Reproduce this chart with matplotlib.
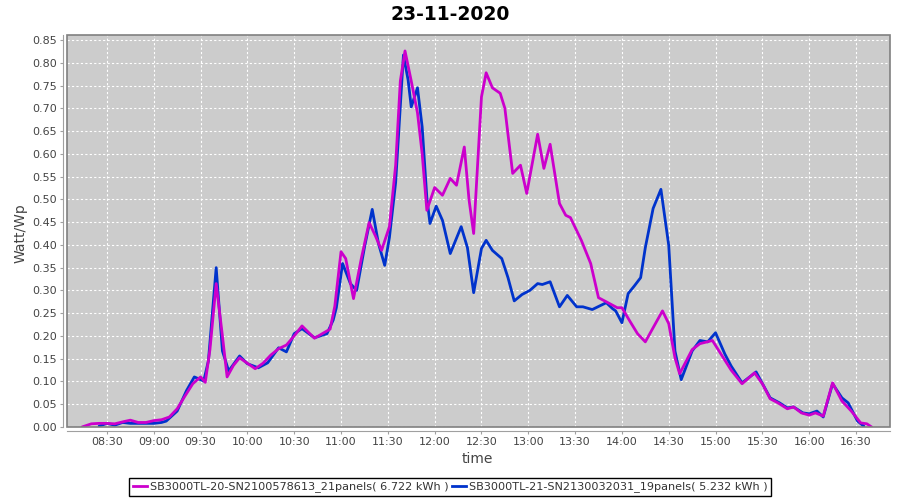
import matplotlib
matplotlib.use("Agg")
import matplotlib.pyplot as plt
import matplotlib.dates as mdates
from matplotlib.patches import Rectangle
from matplotlib.lines import Line2D
import pandas as pd

day = "2020-11-23"
title = "23-11-2020"

# SB3000TL-20 (21 panels)
sb20_times = [
    "08:14", "08:20", "08:25", "08:30", "08:35", "08:41", "08:45", "08:50", "08:55", "09:00",
    "09:05", "09:10", "09:15", "09:20", "09:25", "09:30", "09:33", "09:36", "09:40", "09:44",
    "09:47", "09:51", "09:55", "10:00", "10:05", "10:10", "10:15", "10:20", "10:25", "10:30",
    "10:35", "10:40", "10:43", "10:48", "10:53", "10:56", "11:00", "11:03", "11:08", "11:13",
    "11:18", "11:22", "11:26", "11:31", "11:35", "11:38", "11:41", "11:45", "11:49", "11:52",
    "11:55", "12:00", "12:05", "12:10", "12:14", "12:19", "12:22", "12:25", "12:30", "12:33",
    "12:37", "12:42", "12:45", "12:50", "12:55", "12:59", "13:06", "13:10", "13:14", "13:20",
    "13:24", "13:27", "13:34", "13:40", "13:45", "13:50", "13:57", "14:00", "14:05", "14:10",
    "14:15", "14:20", "14:26", "14:30", "14:34", "14:37", "14:45", "14:50", "14:58", "15:05",
    "15:10", "15:17", "15:25", "15:30", "15:35", "15:40", "15:46", "15:50", "15:55", "16:00",
    "16:04", "16:09", "16:15", "16:21", "16:27", "16:33", "16:37", "16:40",
]
sb20_values = [
    0.000, 0.007, 0.008, 0.008, 0.007, 0.012, 0.015, 0.010, 0.010, 0.014,
    0.016, 0.022, 0.040, 0.068, 0.095, 0.110, 0.098, 0.170, 0.315, 0.200,
    0.110, 0.135, 0.152, 0.140, 0.128, 0.140, 0.158, 0.172, 0.180, 0.200,
    0.222, 0.205, 0.195, 0.205, 0.215, 0.265, 0.385, 0.370, 0.282, 0.370,
    0.449, 0.420, 0.388, 0.440, 0.575, 0.760, 0.826, 0.760, 0.690, 0.600,
    0.476, 0.526, 0.509, 0.546, 0.531, 0.615, 0.500, 0.425, 0.725, 0.778,
    0.745, 0.733, 0.700, 0.557, 0.575, 0.513, 0.643, 0.568, 0.621, 0.491,
    0.465, 0.460, 0.410, 0.359, 0.284, 0.275, 0.262, 0.262, 0.233, 0.205,
    0.187, 0.218, 0.255, 0.227, 0.152, 0.117, 0.170, 0.183, 0.190, 0.152,
    0.125, 0.095, 0.119, 0.095, 0.062, 0.053, 0.040, 0.044, 0.031, 0.026,
    0.031, 0.024, 0.097, 0.057, 0.035, 0.009, 0.007, 0.000,
]

# SB3000TL-21 (19 panels)
sb21_times = [
    "08:25", "08:30", "08:35", "08:40", "08:45", "08:50", "08:55", "09:00", "09:05", "09:08",
    "09:15", "09:21", "09:26", "09:32", "09:35", "09:40", "09:44", "09:48", "09:55", "10:00",
    "10:07", "10:13", "10:20", "10:25", "10:30", "10:35", "10:43", "10:51", "10:55", "10:57",
    "11:01", "11:06", "11:10", "11:15", "11:20", "11:24", "11:28", "11:31", "11:35", "11:40",
    "11:43", "11:45", "11:49", "11:52", "11:55", "11:57", "12:01", "12:05", "12:10", "12:17",
    "12:21", "12:25", "12:30", "12:33", "12:37", "12:43", "12:47", "12:51", "12:56", "13:01",
    "13:06", "13:09", "13:14", "13:20", "13:25", "13:31", "13:35", "13:41", "13:50", "13:54",
    "13:56", "14:00", "14:04", "14:08", "14:12", "14:15", "14:20", "14:25", "14:30", "14:34",
    "14:38", "14:45", "14:50", "14:55", "15:00", "15:06", "15:10", "15:17", "15:26", "15:35",
    "15:41", "15:46", "15:50", "15:56", "16:00", "16:05", "16:09", "16:15", "16:21", "16:25",
    "16:31", "16:35",
]
sb21_values = [
    0.002, 0.008, 0.004, 0.010, 0.008, 0.008, 0.008, 0.008, 0.010, 0.013,
    0.035, 0.080, 0.110, 0.101, 0.145, 0.350, 0.167, 0.123, 0.156, 0.139,
    0.130, 0.141, 0.174, 0.165, 0.205, 0.216, 0.196, 0.205, 0.235, 0.262,
    0.359, 0.315, 0.300, 0.394, 0.478, 0.403, 0.355, 0.416, 0.537, 0.817,
    0.762, 0.703, 0.745, 0.659, 0.504, 0.447, 0.485, 0.454, 0.381, 0.440,
    0.394, 0.295, 0.392, 0.410, 0.388, 0.370, 0.328, 0.277, 0.291, 0.300,
    0.315, 0.313, 0.319, 0.264, 0.289, 0.264, 0.264, 0.258, 0.273, 0.260,
    0.255, 0.229, 0.293, 0.310, 0.328, 0.394, 0.480, 0.522, 0.399, 0.167,
    0.104, 0.167, 0.190, 0.187, 0.207, 0.160, 0.134, 0.097, 0.121, 0.064,
    0.053, 0.042, 0.044, 0.031, 0.029, 0.035, 0.022, 0.095, 0.064, 0.053,
    0.013, 0.002,
]

labels = [
    "SB3000TL-20-SN2100578613_21panels( 6.722 kWh )",
    "SB3000TL-21-SN2130032031_19panels( 5.232 kWh )",
]
colors = ["#cc00cc", "#0033cc"]


def to_dt(times):
    return pd.to_datetime([f"{day} {t}" for t in times])


fig = plt.figure(figsize=(9, 5), dpi=100)
ax = fig.add_axes([67 / 900, 1 - 427 / 500, 823 / 900, 392 / 500])
ax.set_facecolor("#cccccc")

# series 0 drawn last (on top), like the original renderer
ax.plot(to_dt(sb21_times), sb21_values, color=colors[1], lw=2, zorder=3,
        solid_joinstyle="round", solid_capstyle="round")
ax.plot(to_dt(sb20_times), sb20_values, color=colors[0], lw=2, zorder=4,
        solid_joinstyle="round", solid_capstyle="round")

ax.set_xlim(pd.Timestamp(f"{day} 08:04:24"), pd.Timestamp(f"{day} 16:51:48"))
ax.set_ylim(0, 0.861)
ax.set_yticks([i * 0.05 for i in range(18)])
ax.yaxis.set_major_formatter(plt.FormatStrFormatter("%.2f"))
ax.xaxis.set_major_locator(mdates.MinuteLocator(byminute=[0, 30]))
ax.xaxis.set_major_formatter(mdates.DateFormatter("%H:%M"))

ax.grid(True, color="white", lw=0.8, ls=(0, (2, 2)), zorder=1)
ax.set_axisbelow(True)

for side in ("top", "right"):
    ax.spines[side].set_visible(False)
for side in ("left", "bottom"):
    ax.spines[side].set_position(("outward", 3))
    ax.spines[side].set_color("#a0a0a0")
ax.add_patch(Rectangle((0, 0), 1, 1, transform=ax.transAxes, fill=False,
                       edgecolor="#808080", lw=1.2, zorder=5, clip_on=False))

ax.tick_params(axis="both", direction="out", length=2.5, color="#a0a0a0",
               labelsize=8, labelcolor="#444444", pad=2)

ax.set_xlabel("time", fontsize=10, color="#444444")
ax.xaxis.label.set_va("center")
ax.xaxis.set_label_coords(0.498, -(459 - 427) / 392)
ax.set_ylabel("Watt/Wp", fontsize=10, color="#444444")
ax.yaxis.label.set_va("center")
ax.yaxis.set_label_coords(-(67 - 21) / 823, 0.495)

fig.text(0.5, 1 - 14 / 500, title, ha="center", va="center",
         fontsize=13.5, fontweight="bold")

handles = [Line2D([], [], color=c, lw=2) for c in colors]
leg = fig.legend(handles, labels, loc="center", bbox_to_anchor=(0.5, 1 - 487 / 500),
                 ncol=2, fontsize=8.1, frameon=True, fancybox=False, edgecolor="black",
                 framealpha=1, handlelength=1.3, handletextpad=0.2,
                 columnspacing=0.3, borderpad=0.3, borderaxespad=0)
leg.get_frame().set_linewidth(1)
for t in leg.get_texts():
    t.set_color("#333333")

fig.savefig("out.png", dpi=100)
